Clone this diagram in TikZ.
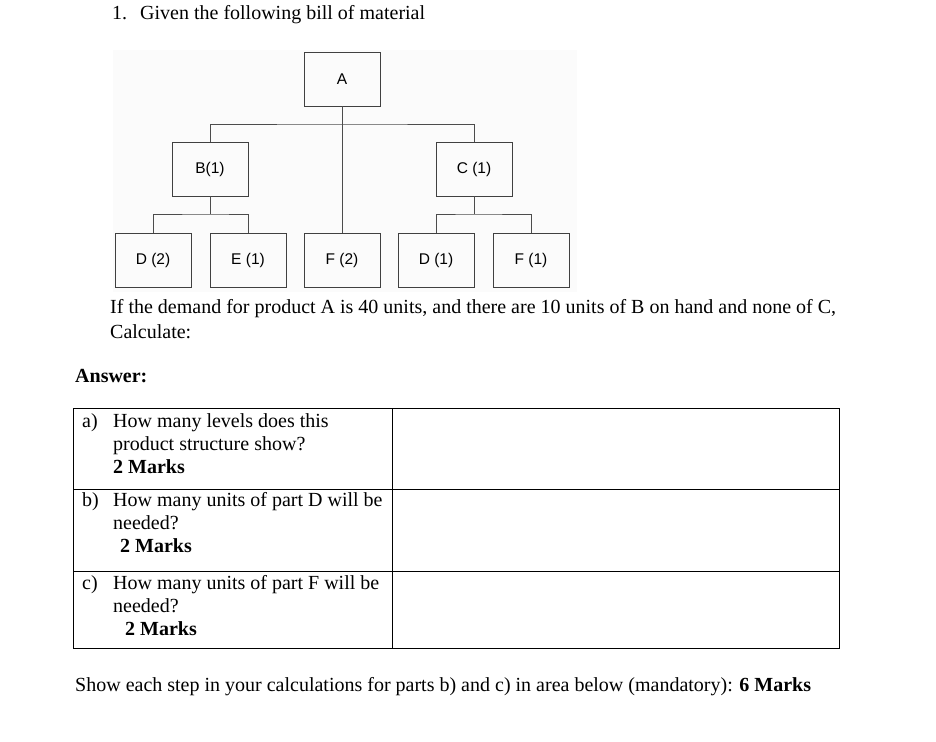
\documentclass[tikz,border=0pt]{standalone}
\usepackage{fontspec}
\setmainfont{Liberation Serif}
\newfontfamily\arialf{Liberation Sans}
\begin{document}
\begin{tikzpicture}[x=1pt,y=-1pt,
  bx/.style={draw=black!75,line width=0.8pt,minimum width=76pt,minimum height=54pt,font=\arialf\fontsize{15.5}{17}\selectfont,inner sep=0pt},
  ln/.style={draw=black!70,line width=0.8pt},
  tx/.style={anchor=west,inner sep=0pt,font=\fontsize{20}{23}\selectfont},
  tl/.style={anchor=north west,inner sep=0pt,font=\fontsize{20}{23}\selectfont,align=left}]
\useasboundingbox[fill=white] (0,0) rectangle (936,741);
\fill[black!1.5] (113,50) rectangle (577,292);
\node[bx] (A) at (342,79) {A};
\node[bx] (B) at (210,169) {B(1)};
\node[bx] (C) at (474,169) {C (1)};
\node[bx] (D2) at (153,260.5) {D (2)};
\node[bx] (E1) at (248,260.5) {E (1)};
\node[bx] (F2) at (342,260.5) {F (2)};
\node[bx] (D1) at (436,260.5) {D (1)};
\node[bx] (F1) at (531,260.5) {F (1)};
\coordinate (h1) at (342,124);
\coordinate (h2) at (210,214);
\coordinate (h3) at (474,214);
\draw[ln] (A.south) -- (F2.north);
\draw[ln] (B.north) |- (h1) -| (C.north);
\draw[ln] (D2.north) |- (h2) -| (E1.north);
\draw[ln] (B.south) -- (h2);
\draw[ln] (D1.north) |- (h3) -| (F1.north);
\draw[ln] (C.south) -- (h3);
\node[tx] (t1) at (112,15) {1.\hspace{13pt}Given the following bill of material};
\node[tx] (t2) at (110,309) {If the demand for product A is 40 units, and there are 10 units of B on hand and none of C,};
\node[tx] (t3) at (110,332) {Calculate:};
\node[tx] (t4) at (75,376) {\bfseries Answer:};
\draw[line width=0.8pt] (73,408) rectangle (839,648);
\draw[line width=0.8pt] (392,408) -- (392,648);
\draw[line width=0.8pt] (73,489) -- (839,489);
\draw[line width=0.8pt] (73,571) -- (839,571);
\node[tx] (qa) at (82,423) {a)};
\node[tl] (qat) at (113,413) {How many levels does this\\product structure show?\\\textbf{2 Marks}};
\node[tx] (qb) at (82,502) {b)};
\node[tl] (qbt) at (113,492) {How many units of part D will be\\needed?\\\hspace{7pt}\textbf{2 Marks}};
\node[tx] (qc) at (82,585) {c)};
\node[tl] (qct) at (113,575) {How many units of part F will be\\needed?\\\hspace{12pt}\textbf{2 Marks}};
\node[tx] (t5) at (75,687) {Show each step in your calculations for parts b) and c) in area below (mandatory): \textbf{6 Marks}};
\end{tikzpicture}
\end{document}
